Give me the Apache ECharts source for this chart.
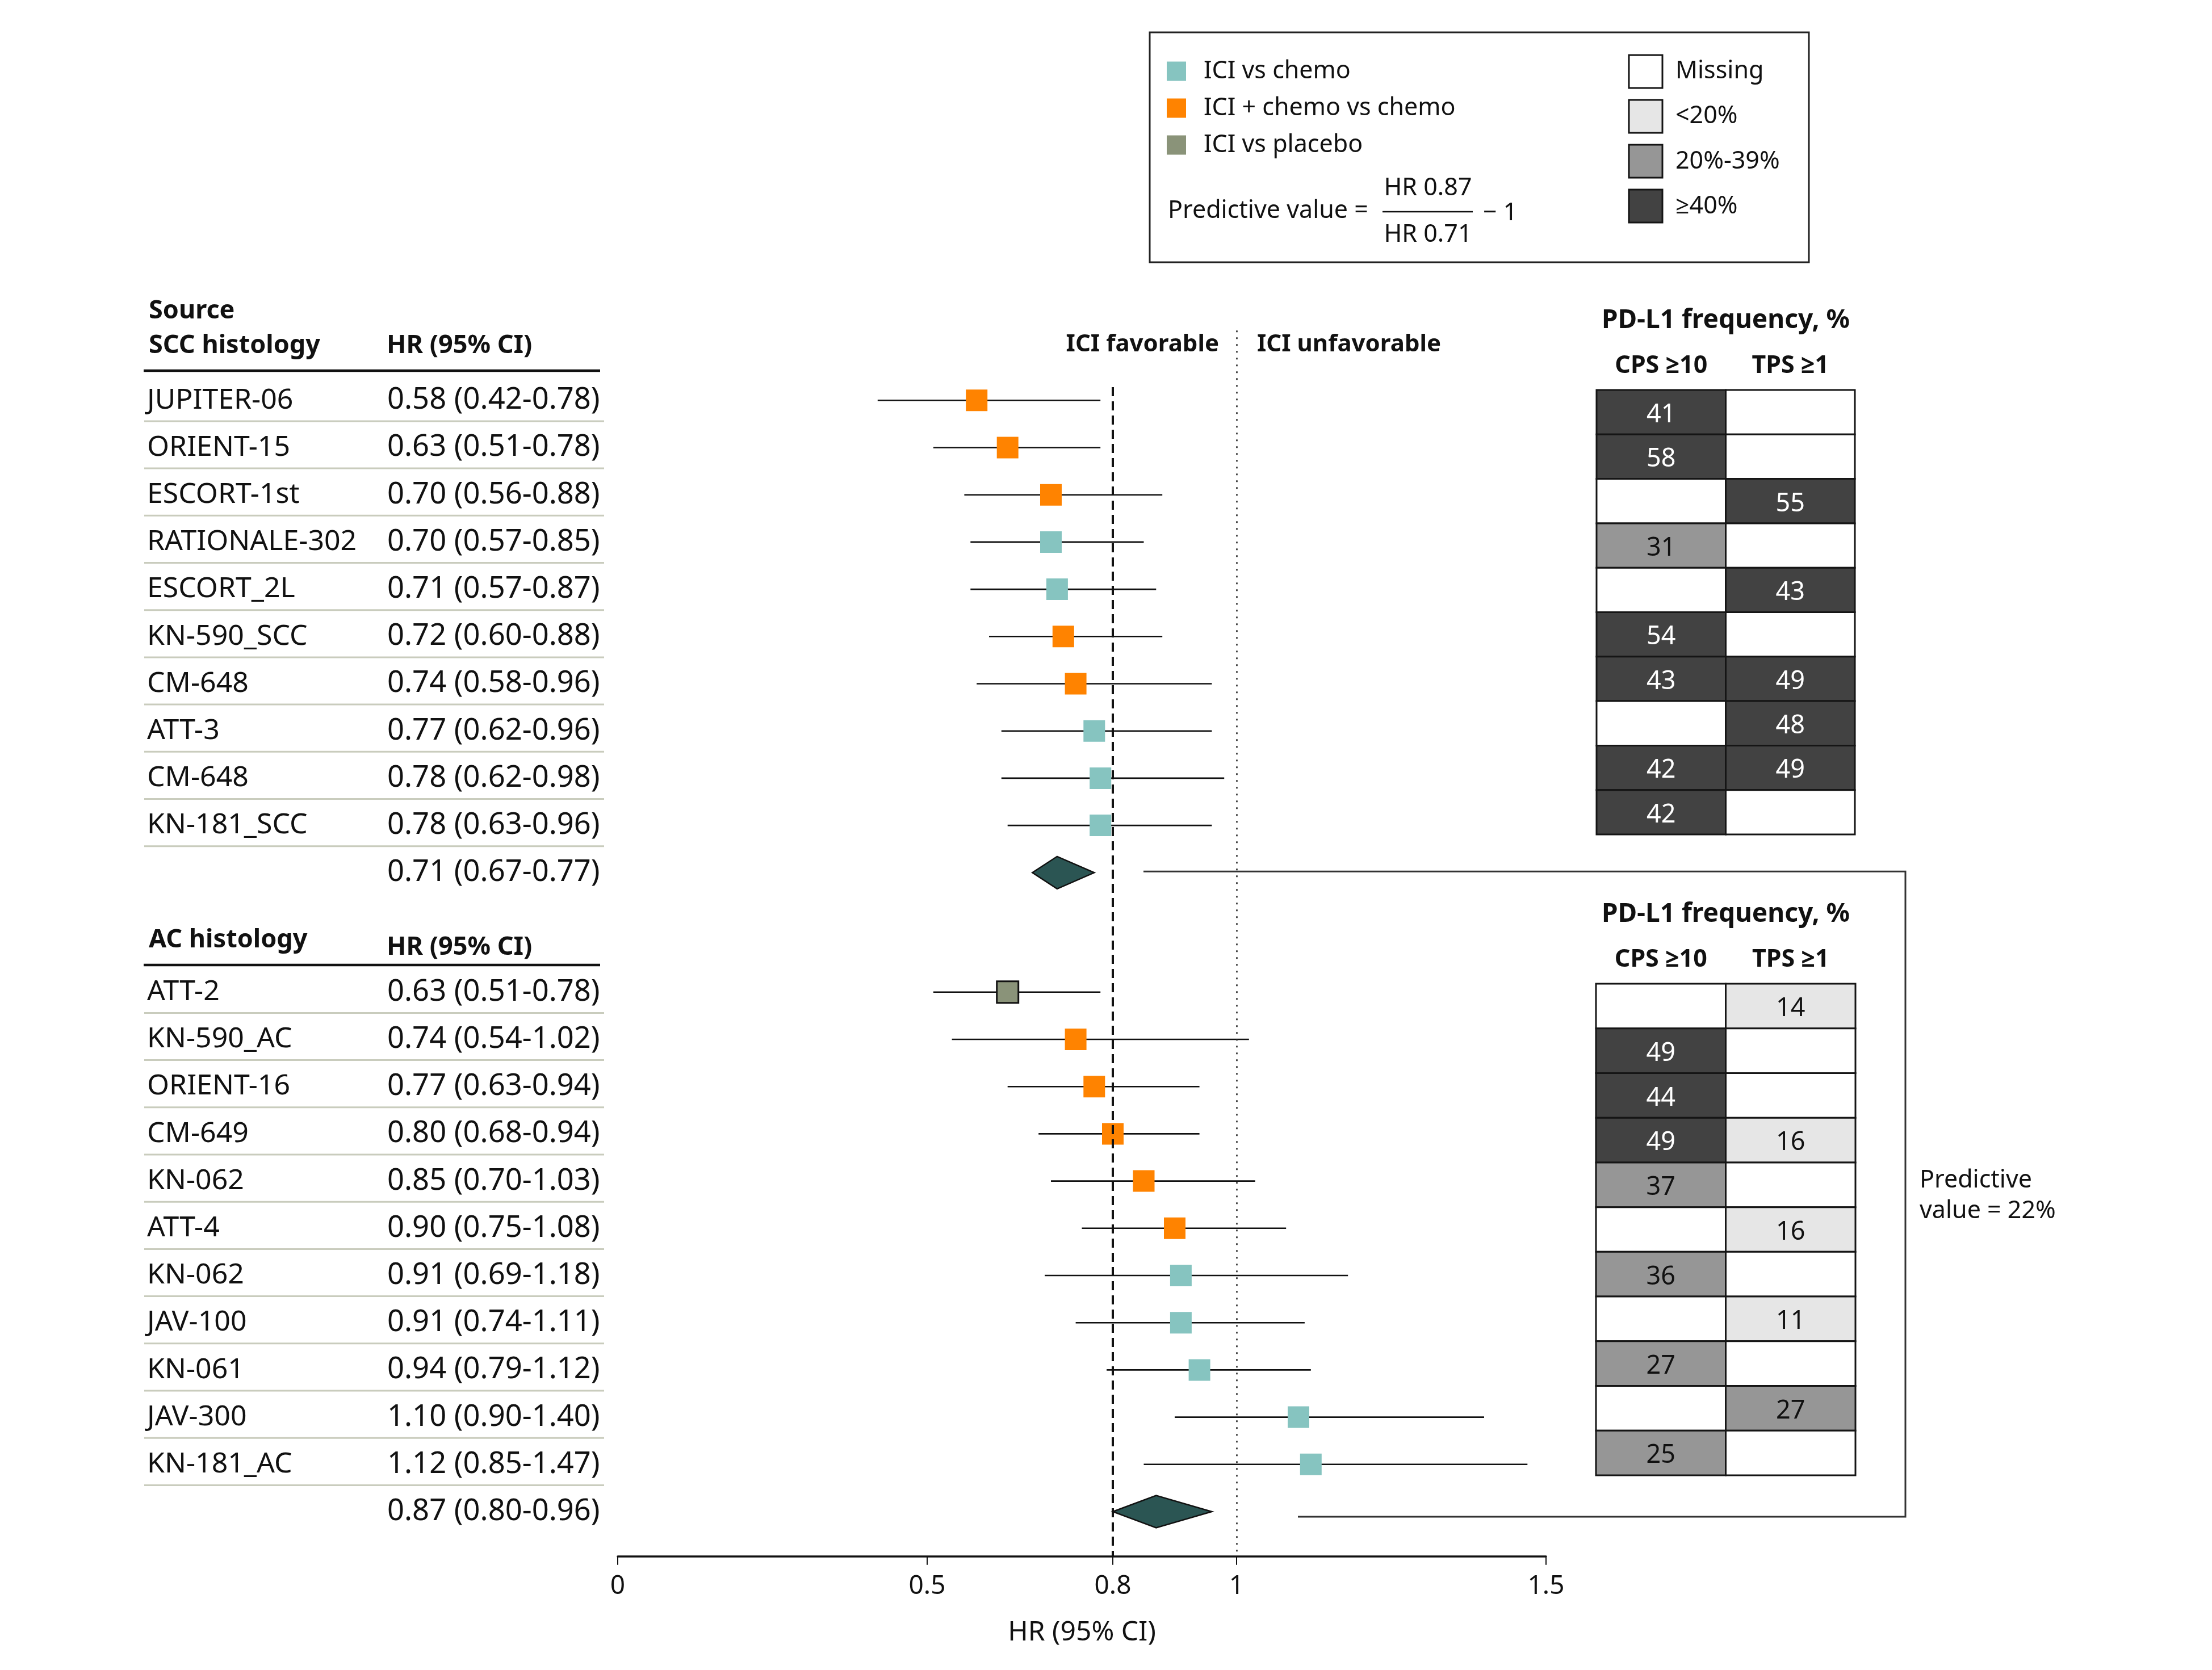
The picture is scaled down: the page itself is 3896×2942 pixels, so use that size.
<!DOCTYPE html>
<html><head><meta charset="utf-8">
<script src="https://cdn.jsdelivr.net/npm/echarts@6/dist/echarts.min.js"></script>
<style>html,body{margin:0;padding:0;background:#fff}#c{width:3896px;height:2942px}</style>
</head><body><div id="c"></div>
<script>
// ---------------- data ----------------
const sccStudies = ['JUPITER-06','ORIENT-15','ESCORT-1st','RATIONALE-302','ESCORT_2L','KN-590_SCC','CM-648','ATT-3','CM-648','KN-181_SCC'];
const sccHR = [0.58,0.63,0.70,0.70,0.71,0.72,0.74,0.77,0.78,0.78];
const sccLo = [0.42,0.51,0.56,0.57,0.57,0.60,0.58,0.62,0.62,0.63];
const sccHi = [0.78,0.78,0.88,0.85,0.87,0.88,0.96,0.96,0.98,0.96];
const sccType = ['combo','combo','combo','mono','mono','combo','combo','mono','mono','mono'];
const sccPooled = [0.71,0.67,0.77];

const acStudies = ['ATT-2','KN-590_AC','ORIENT-16','CM-649','KN-062','ATT-4','KN-062','JAV-100','KN-061','JAV-300','KN-181_AC'];
const acHR = [0.63,0.74,0.77,0.80,0.85,0.90,0.91,0.91,0.94,1.10,1.12];
const acLo = [0.51,0.54,0.63,0.68,0.70,0.75,0.69,0.74,0.79,0.90,0.85];
const acHi = [0.78,1.02,0.94,0.94,1.03,1.08,1.18,1.11,1.12,1.40,1.47];
const acType = ['placebo','combo','combo','combo','combo','combo','mono','mono','mono','mono','mono'];
const acPooled = [0.87,0.80,0.96];

const sccCPS = [41,58,null,31,null,54,43,null,42,42];
const sccTPS = [null,null,55,null,43,null,49,48,49,null];
const acCPS = [null,49,44,49,37,null,36,null,27,null,25];
const acTPS = [14,null,null,16,null,16,null,11,null,27,null];

const xTicks = [0,0.5,0.8,1,1.5];
const pdCols = ['CPS ≥10','TPS ≥1'];
const typeNames = {mono:'ICI vs chemo', combo:'ICI + chemo vs chemo', placebo:'ICI vs placebo'};
const typeColors = {mono:'#86c4c0', combo:'#ff8300', placebo:'#8a9379'};

// ---------------- layout ----------------
const FONT = '"Noto Sans", "Open Sans", sans-serif';
const ROW0 = 705.3, ROWH = 83.2, AC_OFF = 12.53;
const YMIN = -2, YMAX = 24.476;
const GX = 1088, GW = 1635;
const GTOP = ROW0 + YMIN * ROWH, GH = (YMAX - YMIN) * ROWH;
const rowPix = r => ROW0 + r * ROWH;

// rows (study rows + pooled)
const rows = [];
sccStudies.forEach((n, i) => rows.push({row: i, name: n, hr: sccHR[i], lo: sccLo[i], hi: sccHi[i], type: sccType[i], sep: true}));
rows.push({row: 10, name: '', hr: sccPooled[0], lo: sccPooled[1], hi: sccPooled[2], type: 'pooled', sep: false});
acStudies.forEach((n, j) => rows.push({row: AC_OFF + j, name: n, hr: acHR[j], lo: acLo[j], hi: acHi[j], type: acType[j], sep: true}));
rows.push({row: AC_OFF + 11, name: '', hr: acPooled[0], lo: acPooled[1], hi: acPooled[2], type: 'pooled', sep: false});
const fmt = v => v.toFixed(2);
rows.forEach(r => r.text = fmt(r.hr) + ' (' + fmt(r.lo) + '-' + fmt(r.hi) + ')');

const studyRows = rows.filter(r => r.type !== 'pooled');
const pooledRows = rows.filter(r => r.type === 'pooled');

function scatterSeries(t) {
  return {
    name: typeNames[t], type: 'scatter', xAxisIndex: 0, yAxisIndex: 0, z: 4,
    symbol: 'rect', symbolSize: 38,
    itemStyle: t === 'placebo' ? {color: typeColors[t], borderColor: '#111', borderWidth: 3, opacity: 1}
                               : {color: typeColors[t], opacity: 1},
    emphasis: {disabled: true}, silent: true,
    data: studyRows.filter(r => r.type === t).map(r => [r.hr, r.row])
  };
}

function cellColor(v) {
  if (v === null || isNaN(v)) return '#ffffff';
  if (v < 20) return '#e6e6e6';
  if (v < 40) return '#969696';
  return '#424242';
}
function pdSeries(idx, cps, tps) {
  const data = [];
  cps.forEach((v, i) => data.push([0, i, v]));
  tps.forEach((v, i) => data.push([1, i, v]));
  return {
    type: 'custom', xAxisIndex: idx, yAxisIndex: idx, silent: true, z: 3,
    data: data,
    renderItem(params, api) {
      const v = api.value(2);
      const c = api.coord([api.value(0), api.value(1)]);
      const s = api.size([1, 1]);
      const has = !(v === null || isNaN(v));
      return {type: 'group', children: [
        {type: 'rect', shape: {x: c[0] - s[0] / 2, y: c[1] - s[1] / 2, width: s[0], height: s[1]},
         style: {fill: cellColor(has ? v : null), stroke: '#151515', lineWidth: 3}},
        {type: 'text', style: {text: has ? String(v) : '', x: c[0], y: c[1] + 5, align: 'center', verticalAlign: 'middle',
         fill: has && v >= 40 ? '#ffffff' : '#111111', font: '45px ' + FONT}}
      ]};
    }
  };
}

function pdXAxis(idx) {
  return {
    gridIndex: idx, type: 'category', data: pdCols, position: 'top',
    axisLine: {show: false}, axisTick: {show: false}, splitLine: {show: false},
    axisLabel: {margin: 21, color: '#111', fontFamily: FONT, fontWeight: 'bold', fontSize: 43},
    name: 'PD-L1 frequency, %', nameLocation: 'middle', nameGap: 99,
    nameTextStyle: {color: '#111', fontFamily: FONT, fontWeight: 'bold', fontSize: 46}
  };
}
function pdYAxis(idx, n) {
  return {gridIndex: idx, type: 'category', inverse: true, show: false, data: Array.from({length: n}, (_, i) => i)};
}

const boldT = (text, x, y, size, align) => ({type: 'text', style: {text, x, y, align: align || 'left', verticalAlign: 'middle', fill: '#111', font: 'bold ' + size + 'px ' + FONT}});
const regT = (text, x, y, size, align) => ({type: 'text', style: {text, x, y, align: align || 'left', verticalAlign: 'middle', fill: '#111', font: size + 'px ' + FONT}});
const line = (x1, y1, x2, y2, w, c) => ({type: 'line', shape: {x1, y1, x2, y2}, style: {stroke: c || '#111', lineWidth: w}});
const box = (x, y, w, h, fill) => ({type: 'rect', shape: {x, y, width: w, height: h}, style: {fill, stroke: '#151515', lineWidth: 3}});

const graphics = [
  // legend frame
  {type: 'rect', shape: {x: 2025, y: 57, width: 1161, height: 405}, style: {fill: 'none', stroke: '#222', lineWidth: 3}},
  regT('Predictive value =', 2057, 372, 43),
  regT('HR 0.87', 2515, 332, 43, 'center'),
  line(2435, 373, 2594, 373, 2.5),
  regT('HR 0.71', 2515, 414, 43, 'center'),
  regT('− 1', 2612, 376, 43),
  box(2869, 97, 59, 58, '#ffffff'), regT('Missing', 2951, 126, 43),
  box(2869, 176, 59, 58, '#e6e6e6'), regT('<20%', 2951, 205, 43),
  box(2869, 255, 59, 58, '#969696'), regT('20%-39%', 2951, 285, 43),
  box(2869, 334, 59, 58, '#424242'), regT('≥40%', 2951, 364, 43),
  // table headers
  boldT('Source', 262, 548, 45), boldT('SCC histology', 262, 609, 45), boldT('HR (95% CI)', 681, 609, 45),
  line(253, 653, 1057, 653, 4.5),
  boldT('AC histology', 262, 1656, 45), boldT('HR (95% CI)', 681, 1669, 45),
  line(253, 1700, 1057, 1700, 4.5),
  // favorable labels
  boldT('ICI favorable', 2147, 607, 42, 'right'), boldT('ICI unfavorable', 2214, 607, 42),
  // bracket around AC group
  {type: 'polyline', shape: {points: [[2014, rowPix(10) - 2], [3356, rowPix(10) - 2], [3356, 2672], [2286, 2672]]}, style: {stroke: '#333', lineWidth: 3, fill: 'none'}},
  regT('Predictive', 3381, 2080, 43), regT('value = 22%', 3381, 2134, 43)
];

const option = {
  backgroundColor: '#ffffff',
  animation: false,
  textStyle: {fontFamily: FONT},
  legend: {
    orient: 'vertical', left: 2055, top: 104, padding: 0, itemGap: 22,
    itemWidth: 34, itemHeight: 34, icon: 'rect', selectedMode: false,
    textStyle: {fontSize: 43, color: '#111', fontFamily: FONT, padding: [0, 0, 0, 26]},
    data: [{name: 'ICI vs chemo'}, {name: 'ICI + chemo vs chemo'}, {name: 'ICI vs placebo', itemStyle: {borderWidth: 0}}]
  },
  grid: [
    {left: GX, top: GTOP, width: GW, height: GH},
    {left: 2812, top: 687, width: 455, height: 783},
    {left: 2811, top: 1733, width: 457, height: 866}
  ],
  xAxis: [
    {gridIndex: 0, type: 'value', min: 0, max: 1.5, position: 'bottom',
     axisLine: {show: true, onZero: false, lineStyle: {color: '#111', width: 3.5}},
     axisTick: {show: true, length: 15, customValues: xTicks, lineStyle: {color: '#111', width: 2}},
     axisLabel: {show: true, customValues: xTicks, margin: 30, color: '#111', fontFamily: FONT, fontSize: 46, formatter: v => String(v)},
     splitLine: {show: false},
     name: 'HR (95% CI)', nameLocation: 'middle', nameGap: 111,
     nameTextStyle: {color: '#111', fontFamily: FONT, fontSize: 48}},
    pdXAxis(1), pdXAxis(2)
  ],
  yAxis: [
    {gridIndex: 0, type: 'value', min: YMIN, max: YMAX, inverse: true, show: false},
    pdYAxis(1, sccCPS.length), pdYAxis(2, acCPS.length)
  ],
  graphic: graphics,
  series: [
    // confidence intervals + reference lines
    {
      type: 'custom', name: 'CI', xAxisIndex: 0, yAxisIndex: 0, z: 2, silent: true, clip: false,
      encode: {x: [0, 1], y: 2},
      data: studyRows.map(r => [r.lo, r.hi, r.row]),
      renderItem(params, api) {
        const a = api.coord([api.value(0), api.value(2)]);
        const b = api.coord([api.value(1), api.value(2)]);
        return {type: 'line', shape: {x1: a[0], y1: a[1], x2: b[0], y2: b[1]}, style: {stroke: '#111', lineWidth: 2.6}};
      },
      markLine: {
        silent: true, symbol: ['none', 'none'], label: {show: false}, animation: false,
        data: [
          [{coord: [0.8, -0.28], lineStyle: {type: [16, 9], width: 4, color: '#111'}}, {coord: [0.8, YMAX]}],
          [{coord: [1, -1.48], lineStyle: {type: [3, 9], width: 2.5, color: '#222'}}, {coord: [1, YMAX]}]
        ]
      }
    },
    scatterSeries('mono'), scatterSeries('combo'), scatterSeries('placebo'),
    // pooled diamonds
    {
      type: 'custom', name: 'Pooled', xAxisIndex: 0, yAxisIndex: 0, z: 4, silent: true, clip: false,
      encode: {x: [0, 1, 2], y: 3},
      data: pooledRows.map(r => [r.lo, r.hr, r.hi, r.row]),
      renderItem(params, api) {
        const y = api.value(3);
        const lo = api.coord([api.value(0), y]);
        const mid = api.coord([api.value(1), y]);
        const hi = api.coord([api.value(2), y]);
        const h = 28.5;
        return {type: 'polygon', shape: {points: [[lo[0], lo[1]], [mid[0], mid[1] - h], [hi[0], hi[1]], [mid[0], mid[1] + h]]},
                style: {fill: '#2b5553', stroke: '#111', lineWidth: 2.5}};
      }
    },
    // left table text
    {
      type: 'custom', name: 'Table', xAxisIndex: 0, yAxisIndex: 0, z: 3, silent: true, clip: false,
      encode: {x: 0, y: 1},
      data: rows.map(r => [0, r.row]),
      renderItem(params, api) {
        const r = rows[params.dataIndex];
        const y = api.coord([0, api.value(1)])[1];
        const ch = [
          {type: 'text', style: {text: r.name, x: 259, y: y, align: 'left', verticalAlign: 'middle', fill: '#111', font: '50px ' + FONT}},
          {type: 'text', style: {text: r.text, x: 682, y: y, align: 'left', verticalAlign: 'middle', fill: '#111', font: '52.5px ' + FONT}}
        ];
        if (r.sep) {
          const ys = api.coord([0, api.value(1) + 0.44])[1];
          ch.push({type: 'line', shape: {x1: 254, y1: ys, x2: 1064, y2: ys}, style: {stroke: '#c9ccbd', lineWidth: 3}});
        }
        return {type: 'group', children: ch};
      }
    },
    pdSeries(1, sccCPS, sccTPS),
    pdSeries(2, acCPS, acTPS)
  ]
};

const chart = echarts.init(document.getElementById('c'), null, {renderer: 'canvas'});
chart.setOption(option);
</script>
</body></html>
